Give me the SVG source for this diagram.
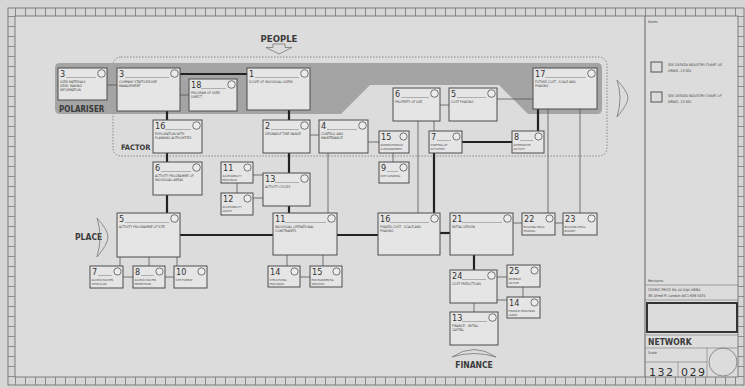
<svg xmlns="http://www.w3.org/2000/svg" width="745" height="388" viewBox="0 0 745 388">
<style>
.bx{fill:#e5e5e5;stroke:#4d4d4d;stroke-width:1}
.num{font-family:'Liberation Sans Narrow','DejaVu Sans Condensed','Liberation Sans',sans-serif;font-size:9px;fill:#333}
.lb{font-family:'DejaVu Sans Condensed','Liberation Sans Narrow','Liberation Sans',sans-serif;font-size:3.3px;fill:#444}
.ls{font-family:'DejaVu Sans Condensed','Liberation Sans Narrow','Liberation Sans',sans-serif;font-size:2.9px;fill:#444}
.ci{fill:#ececec;stroke:#555;stroke-width:0.8}
.hl{stroke:#777;stroke-width:0.5}
.tk{stroke:#222;stroke-width:2.2;fill:none}
.tn{stroke:#555;stroke-width:0.8;fill:none}
.big{font-family:'DejaVu Sans Condensed','Liberation Sans Narrow','Liberation Sans',sans-serif;font-weight:bold;fill:#3a3a3a}
.tb{font-family:'DejaVu Sans Condensed','Liberation Sans Narrow','Liberation Sans',sans-serif;font-size:3.6px;fill:#444}
.fr{fill:none;stroke:#666;stroke-width:0.8}
.arr{fill:none;stroke:#777;stroke-width:0.8}
.tl{stroke:#777;stroke-width:0.6}
</style>
<rect x="0" y="0" width="745" height="388" fill="#d6d6d6"/>
<rect x="15" y="16" width="723" height="361" fill="#dcdcdc"/>
<g id="frame">
<rect class="fr" x="8" y="8" width="736" height="377"/>
<rect class="fr" x="15" y="16" width="723" height="361"/>
<line x1="15" y1="12" x2="738" y2="12" stroke="#777" stroke-width="8" stroke-dasharray="0.8 9.2"/>
<line x1="15" y1="381" x2="738" y2="381" stroke="#777" stroke-width="8" stroke-dasharray="0.8 9.2"/>
<line x1="11.5" y1="16" x2="11.5" y2="377" stroke="#777" stroke-width="7" stroke-dasharray="0.8 9.2"/>
<line x1="741" y1="16" x2="741" y2="377" stroke="#777" stroke-width="6" stroke-dasharray="0.8 9.2"/>
<line x1="645" y1="16" x2="645" y2="377" stroke="#666" stroke-width="1"/>
</g>
<rect x="113" y="57" width="494" height="99" rx="8" fill="none" stroke="#777" stroke-width="0.8" stroke-dasharray="1.5 1.5"/>
<path d="M60,63 H597 Q602,63 602,68 V109 Q602,114 597,114 H528 L499,85 H370 L341,114 H60 Q55,114 55,109 V68 Q55,63 60,63 Z" fill="#a4a4a4"/>
<text class="big" x="59" y="112" font-size="8">POLARISER</text>
<text class="big" x="121" y="150" font-size="7.5">FACTOR</text>
<text class="big" x="279" y="42" font-size="9.5" text-anchor="middle">PEOPLE</text>
<path class="arr" d="M273,44 H285 V47.5 H292 L279,54 L266,47.5 H273 Z"/>
<text class="big" x="75" y="240" font-size="8.5">PLACE</text>
<path class="arr" d="M97,218 Q108,230 108,237 Q108,244 97,257 Q103,237 97,218 Z"/>
<path class="arr" d="M617,80 Q628,92 628,98 Q628,104 617,117 Q623,98 617,80 Z"/>
<text class="big" x="474" y="368" font-size="8.5" text-anchor="middle">FINANCE</text>
<path class="arr" d="M452,357 Q474,342 496,357 Q474,350 452,357 Z"/>
<g id="connectors">
<path class="tk" d="M180,74 H247"/>
<path class="tk" d="M289,110 V120"/>
<path class="tk" d="M167,111 V120"/>
<path class="tk" d="M167,153 V162"/>
<path class="tk" d="M167,195 V213"/>
<path class="tk" d="M289,153 V173"/>
<path class="tk" d="M289,206 V213"/>
<path class="tk" d="M180,235 H273"/>
<path class="tk" d="M337,235 H378"/>
<path class="tk" d="M440,233 H450"/>
<path class="tk" d="M474,255 V270"/>
<path class="tk" d="M462,142 H512"/>
<path class="tk" d="M538,109 V131"/>
<path class="tk" d="M434,153 V213"/>
<path class="tn" d="M107,85 H117"/>
<path class="tn" d="M180,95 H189"/>
<path class="tn" d="M310,135 H319"/>
<path class="tn" d="M368,142 H379"/>
<path class="tn" d="M393,153 V162"/>
<path class="tn" d="M328,153 V213"/>
<path class="tn" d="M418,121 V213"/>
<path class="tn" d="M434,121 V131"/>
<path class="tn" d="M440,105 H449"/>
<path class="tn" d="M497,99 H533"/>
<path class="tn" d="M548,109 V213"/>
<path class="tn" d="M580,109 V213"/>
<path class="tn" d="M513,223 H522"/>
<path class="tn" d="M555,223 H563"/>
<path class="tn" d="M237,183 V193"/>
<path class="tn" d="M253,175 H263"/>
<path class="tn" d="M253,198 H263"/>
<path class="tn" d="M120,257 V266"/>
<path class="tn" d="M149,257 V266"/>
<path class="tn" d="M177,257 V266"/>
<path class="tn" d="M123,277 H133"/>
<path class="tn" d="M165,277 H174"/>
<path class="tn" d="M287,255 V266"/>
<path class="tn" d="M323,255 V266"/>
<path class="tn" d="M300,277 H310"/>
<path class="tn" d="M497,277 H507"/>
<path class="tn" d="M497,300 H507"/>
<path class="tn" d="M523,287 V297"/>
<path class="tn" d="M474,303 V312"/>
</g>
<g id="n3a"><rect class="bx" x="58" y="68" width="49" height="32"/><text class="num" x="60" y="77">3</text><line class="hl" x1="66" y1="77.5" x2="96" y2="77.5"/><circle class="ci" cx="101.5" cy="73.5" r="3.8"/><text class="lb" x="60" y="82.5">USER MATERIALS</text><text class="lb" x="60" y="86.7">DESK: MAKING</text><text class="lb" x="60" y="90.9">INFORMATION</text></g>
<g id="n3b"><rect class="bx" x="117" y="68" width="63" height="43"/><text class="num" x="119" y="77">3</text><line class="hl" x1="125" y1="77.5" x2="169" y2="77.5"/><circle class="ci" cx="174.5" cy="73.5" r="3.8"/><text class="lb" x="119" y="82.5">COMPANY STAFF/LEISURE</text><text class="lb" x="119" y="86.7">MANAGEMENT</text></g>
<g id="n18"><rect class="bx" x="189" y="79" width="48" height="32"/><text class="num" x="191" y="88">18</text><line class="hl" x1="201" y1="88.5" x2="226" y2="88.5"/><circle class="ci" cx="231.5" cy="84.5" r="3.8"/><text class="lb" x="191" y="93.5">PROGRAM OF USER</text><text class="lb" x="191" y="97.7">DIRECT</text></g>
<g id="n1"><rect class="bx" x="247" y="68" width="63" height="42"/><text class="num" x="249" y="77">1</text><line class="hl" x1="255" y1="77.5" x2="299" y2="77.5"/><circle class="ci" cx="304.5" cy="73.5" r="3.8"/><text class="lb" x="249" y="82.5">SCOPE OF INDIVIDUAL USERS</text></g>
<g id="n6a"><rect class="bx" x="393" y="88" width="47" height="33"/><text class="num" x="395" y="97">6</text><line class="hl" x1="401" y1="97.5" x2="429" y2="97.5"/><circle class="ci" cx="434.5" cy="93.5" r="3.8"/><text class="lb" x="395" y="102.5">PROPERTY OF USE</text></g>
<g id="n5a"><rect class="bx" x="449" y="88" width="48" height="33"/><text class="num" x="451" y="97">5</text><line class="hl" x1="457" y1="97.5" x2="486" y2="97.5"/><circle class="ci" cx="491.5" cy="93.5" r="3.8"/><text class="lb" x="451" y="102.5">COST PHASING</text></g>
<g id="n17"><rect class="bx" x="533" y="68" width="64" height="41"/><text class="num" x="535" y="77">17</text><line class="hl" x1="545" y1="77.5" x2="586" y2="77.5"/><circle class="ci" cx="591.5" cy="73.5" r="3.8"/><text class="lb" x="535" y="82.5">FUTURE COST - SCALE AND</text><text class="lb" x="535" y="86.7">PHASING</text></g>
<g id="n16a"><rect class="bx" x="153" y="120" width="49" height="33"/><text class="num" x="155" y="129">16</text><line class="hl" x1="165" y1="129.5" x2="191" y2="129.5"/><circle class="ci" cx="196.5" cy="125.5" r="3.8"/><text class="lb" x="155" y="134.5">EXPLORATION WITH</text><text class="lb" x="155" y="138.7">PLANNING AUTHORITIES</text></g>
<g id="n2"><rect class="bx" x="263" y="120" width="47" height="33"/><text class="num" x="265" y="129">2</text><line class="hl" x1="271" y1="129.5" x2="299" y2="129.5"/><circle class="ci" cx="304.5" cy="125.5" r="3.8"/><text class="lb" x="265" y="134.5">DESIRABLE TIME RANGE</text></g>
<g id="n4"><rect class="bx" x="319" y="120" width="49" height="33"/><text class="num" x="321" y="129">4</text><line class="hl" x1="327" y1="129.5" x2="357" y2="129.5"/><circle class="ci" cx="362.5" cy="125.5" r="3.8"/><text class="lb" x="321" y="134.5">CONTROL AND</text><text class="lb" x="321" y="138.7">MAINTENANCE</text></g>
<g id="n15a"><rect class="bx" x="379" y="131" width="30" height="22"/><text class="num" x="381" y="140">15</text><circle class="ci" cx="403.5" cy="136.5" r="3.6"/><text class="ls" x="380.5" y="145.5">ADMINISTRATION</text><text class="ls" x="380.5" y="149.5">&amp; MANAGEMENT</text></g>
<g id="n9"><rect class="bx" x="379" y="162" width="30" height="21"/><text class="num" x="381" y="171">9</text><line class="hl" x1="387" y1="171.5" x2="398" y2="171.5"/><circle class="ci" cx="403.5" cy="167.5" r="3.6"/><text class="ls" x="380.5" y="176.5">SITE CLEARING</text></g>
<g id="n7a"><rect class="bx" x="429" y="131" width="33" height="22"/><text class="num" x="431" y="140">7</text><line class="hl" x1="437" y1="140.5" x2="451" y2="140.5"/><circle class="ci" cx="456.5" cy="136.5" r="3.6"/><text class="ls" x="430.5" y="145.5">STAFFING OF</text><text class="ls" x="430.5" y="149.5">ACTIVITIES</text></g>
<g id="n8a"><rect class="bx" x="512" y="131" width="32" height="22"/><text class="num" x="514" y="140">8</text><line class="hl" x1="520" y1="140.5" x2="533" y2="140.5"/><circle class="ci" cx="538.5" cy="136.5" r="3.6"/><text class="ls" x="513.5" y="145.5">ALTERNATIVE</text><text class="ls" x="513.5" y="149.5">ACTIVITY</text></g>
<g id="n6b"><rect class="bx" x="153" y="162" width="49" height="33"/><text class="num" x="155" y="171">6</text><line class="hl" x1="161" y1="171.5" x2="191" y2="171.5"/><circle class="ci" cx="196.5" cy="167.5" r="3.8"/><text class="lb" x="155" y="176.5">ACTIVITY PROGRAMME OF</text><text class="lb" x="155" y="180.7">INDIVIDUAL AREAS</text></g>
<g id="n11a"><rect class="bx" x="221" y="162" width="32" height="21"/><text class="num" x="223" y="171">11</text><circle class="ci" cx="247.5" cy="167.5" r="3.6"/><text class="ls" x="222.5" y="176.5">ACCESSIBILITY</text><text class="ls" x="222.5" y="180.5">PROVISION</text></g>
<g id="n12"><rect class="bx" x="221" y="193" width="32" height="22"/><text class="num" x="223" y="202">12</text><circle class="ci" cx="247.5" cy="198.5" r="3.6"/><text class="ls" x="222.5" y="207.5">ACCESSIBILITY</text><text class="ls" x="222.5" y="211.5">GROUP</text></g>
<g id="n13a"><rect class="bx" x="263" y="173" width="47" height="33"/><text class="num" x="265" y="182">13</text><line class="hl" x1="275" y1="182.5" x2="299" y2="182.5"/><circle class="ci" cx="304.5" cy="178.5" r="3.8"/><text class="lb" x="265" y="187.5">ACTIVITY CYCLES</text></g>
<g id="n5b"><rect class="bx" x="117" y="213" width="63" height="44"/><text class="num" x="119" y="222">5</text><line class="hl" x1="125" y1="222.5" x2="169" y2="222.5"/><circle class="ci" cx="174.5" cy="218.5" r="3.8"/><text class="lb" x="119" y="227.5">ACTIVITY PROGRAMME OF SITE</text></g>
<g id="n11b"><rect class="bx" x="273" y="213" width="64" height="42"/><text class="num" x="275" y="222">11</text><line class="hl" x1="285" y1="222.5" x2="326" y2="222.5"/><circle class="ci" cx="331.5" cy="218.5" r="3.8"/><text class="lb" x="275" y="227.5">INDIVIDUAL OPERATIONAL</text><text class="lb" x="275" y="231.7">CONSTRAINTS</text></g>
<g id="n16b"><rect class="bx" x="378" y="213" width="62" height="42"/><text class="num" x="380" y="222">16</text><line class="hl" x1="390" y1="222.5" x2="429" y2="222.5"/><circle class="ci" cx="434.5" cy="218.5" r="3.8"/><text class="lb" x="380" y="227.5">PHASED COST - SCALE AND</text><text class="lb" x="380" y="231.7">PHASING</text></g>
<g id="n21"><rect class="bx" x="450" y="213" width="63" height="42"/><text class="num" x="452" y="222">21</text><line class="hl" x1="462" y1="222.5" x2="502" y2="222.5"/><circle class="ci" cx="507.5" cy="218.5" r="3.8"/><text class="lb" x="452" y="227.5">INITIAL DESIGN</text></g>
<g id="n22"><rect class="bx" x="522" y="213" width="33" height="22"/><text class="num" x="524" y="222">22</text><circle class="ci" cx="549.5" cy="218.5" r="3.6"/><text class="ls" x="523.5" y="227.5">BUILDING PROG.</text><text class="ls" x="523.5" y="231.5">PHASING</text></g>
<g id="n23"><rect class="bx" x="563" y="213" width="34" height="22"/><text class="num" x="565" y="222">23</text><circle class="ci" cx="591.5" cy="218.5" r="3.6"/><text class="ls" x="564.5" y="227.5">BUILDING PROG.</text><text class="ls" x="564.5" y="231.5">BUDGET</text></g>
<g id="n7b"><rect class="bx" x="90" y="266" width="33" height="22"/><text class="num" x="92" y="275">7</text><line class="hl" x1="98" y1="275.5" x2="112" y2="275.5"/><circle class="ci" cx="117.5" cy="271.5" r="3.6"/><text class="ls" x="91.5" y="280.5">ACCESS ROUTES</text><text class="ls" x="91.5" y="284.5">VEHICULAR</text></g>
<g id="n8b"><rect class="bx" x="133" y="266" width="32" height="22"/><text class="num" x="135" y="275">8</text><line class="hl" x1="141" y1="275.5" x2="154" y2="275.5"/><circle class="ci" cx="159.5" cy="271.5" r="3.6"/><text class="ls" x="134.5" y="280.5">ACCESS ROUTES</text><text class="ls" x="134.5" y="284.5">PEDESTRIAN</text></g>
<g id="n10"><rect class="bx" x="174" y="266" width="33" height="22"/><text class="num" x="176" y="275">10</text><circle class="ci" cx="201.5" cy="271.5" r="3.6"/><text class="ls" x="175.5" y="280.5">SITE FORMAT</text></g>
<g id="n14a"><rect class="bx" x="268" y="266" width="32" height="21"/><text class="num" x="270" y="275">14</text><circle class="ci" cx="294.5" cy="271.5" r="3.6"/><text class="ls" x="269.5" y="280.5">STRUCTURAL</text><text class="ls" x="269.5" y="284.5">PROVISION</text></g>
<g id="n15b"><rect class="bx" x="310" y="266" width="32" height="21"/><text class="num" x="312" y="275">15</text><circle class="ci" cx="336.5" cy="271.5" r="3.6"/><text class="ls" x="311.5" y="280.5">ENVIRONMENTAL</text><text class="ls" x="311.5" y="284.5">SERVICES</text></g>
<g id="n24"><rect class="bx" x="450" y="270" width="47" height="33"/><text class="num" x="452" y="279">24</text><line class="hl" x1="462" y1="279.5" x2="486" y2="279.5"/><circle class="ci" cx="491.5" cy="275.5" r="3.8"/><text class="lb" x="452" y="284.5">COST PREDICTIONS</text></g>
<g id="n25"><rect class="bx" x="507" y="265" width="33" height="22"/><text class="num" x="509" y="274">25</text><circle class="ci" cx="534.5" cy="270.5" r="3.6"/><text class="ls" x="508.5" y="279.5">REVENUE</text><text class="ls" x="508.5" y="283.5">ON SITE</text></g>
<g id="n14b"><rect class="bx" x="507" y="297" width="33" height="21"/><text class="num" x="509" y="306">14</text><circle class="ci" cx="534.5" cy="302.5" r="3.6"/><text class="ls" x="508.5" y="311.5">FINANCE PROVISION</text><text class="ls" x="508.5" y="315.5">LOANS</text></g>
<g id="n13b"><rect class="bx" x="450" y="312" width="48" height="33"/><text class="num" x="452" y="321">13</text><line class="hl" x1="462" y1="321.5" x2="487" y2="321.5"/><circle class="ci" cx="492.5" cy="317.5" r="3.8"/><text class="lb" x="452" y="326.5">FINANCE - INITIAL</text><text class="lb" x="452" y="330.7">CAPITAL</text></g>
<g id="titleblock">
<text class="tb" x="648" y="23">Notes</text>
<rect x="651" y="62" width="11" height="10" fill="none" stroke="#555" stroke-width="1"/>
<text class="tb" x="668" y="66">SEE DESIGN INDUSTRY CHART AS</text>
<text class="tb" x="668" y="72">DRWG. 13 001</text>
<rect x="651" y="92" width="11" height="10" fill="none" stroke="#555" stroke-width="1"/>
<text class="tb" x="668" y="97">SEE DESIGN INDUSTRY CHART LP</text>
<text class="tb" x="668" y="103">DRWG. 13 001</text>
<text class="tb" x="648" y="282">Revisions</text>
<line class="tl" x1="645" y1="285" x2="738" y2="285"/>
<text class="tb" x="648" y="291" font-size="3.4">CEDRIC PRICE MA AA Dipl ARIBA</text>
<text class="tb" x="648" y="297" font-size="3.4">38 Alfred Pl. London WC1 636 5035</text>
<line class="tl" x1="645" y1="300" x2="738" y2="300"/>
<rect x="647" y="303" width="90" height="29" fill="none" stroke="#333" stroke-width="2"/>
<line class="tl" x1="645" y1="335" x2="738" y2="335"/>
<text class="big" x="648" y="345" font-size="8.5" font-weight="normal">NETWORK</text>
<line class="tl" x1="645" y1="348" x2="738" y2="348"/>
<text class="tb" x="648" y="354" font-size="3.2">Scale</text>
<line class="tl" x1="645" y1="362" x2="707" y2="362"/>
<line class="tl" x1="678" y1="362" x2="678" y2="377"/>
<line class="tl" x1="707" y1="348" x2="707" y2="377"/>
<text x="649" y="376" font-family="'DejaVu Sans','Liberation Sans',sans-serif" font-size="11" letter-spacing="1.5" fill="#333">132</text>
<text x="681" y="376" font-family="'DejaVu Sans','Liberation Sans',sans-serif" font-size="11" letter-spacing="1.5" fill="#333">029</text>
<circle cx="723" cy="362" r="14" fill="none" stroke="#777" stroke-width="0.8"/>
</g>
</svg>
